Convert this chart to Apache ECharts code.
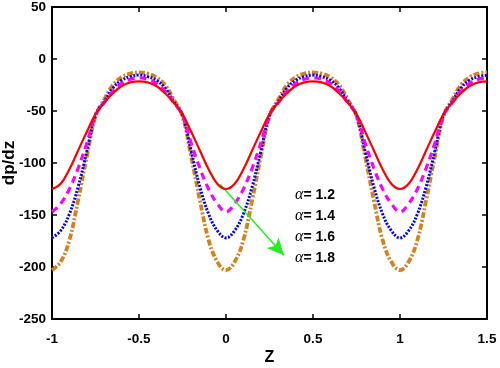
<!DOCTYPE html>
<html>
<head>
<meta charset="utf-8">
<script src="https://cdn.jsdelivr.net/npm/echarts@6/dist/echarts.min.js"></script>
<style>
html,body{margin:0;padding:0;background:#fff;}
#chart{width:500px;height:368px;}
</style>
</head>
<body>
<div id="chart"></div>
<script>
// Axial positions Z
var zValues = [
 -1,-0.95,-0.9,-0.85,-0.8,-0.75,-0.7,-0.65,-0.6,-0.55,-0.5,
 -0.45,-0.4,-0.35,-0.3,-0.25,-0.2,-0.15,-0.1,-0.05,0,
 0.05,0.1,0.15,0.2,0.25,0.3,0.35,0.4,0.45,0.5,
 0.55,0.6,0.65,0.7,0.75,0.8,0.85,0.9,0.95,1,
 1.05,1.1,1.15,1.2,1.25,1.3,1.35,1.4,1.45,1.5
];
// dp/dz for alpha = 1.2
var alpha12 = [
 -125,-120,-106,-88,-70,-53,-42,-33,-26,-22.5,-21.5,
 -22.5,-26,-33,-42,-53,-70,-88,-106,-120,-125,
 -120,-106,-88,-70,-53,-42,-33,-26,-22.5,-21.5,
 -22.5,-26,-33,-42,-53,-70,-88,-106,-120,-125,
 -120,-106,-88,-70,-53,-42,-33,-26,-22.5,-21.5
];
// dp/dz for alpha = 1.4
var alpha14 = [
 -147,-139,-125,-105,-81,-54,-42,-31,-23.5,-19.5,-18,
 -19.5,-23.5,-31,-42,-54,-81,-105,-125,-139,-147,
 -139,-125,-105,-81,-54,-42,-31,-23.5,-19.5,-18,
 -19.5,-23.5,-31,-42,-54,-81,-105,-125,-139,-147,
 -139,-125,-105,-81,-54,-42,-31,-23.5,-19.5,-18
];
// dp/dz for alpha = 1.6
var alpha16 = [
 -172,-165,-149,-123,-89,-54,-41,-28,-20.5,-17,-15.5,
 -17,-20.5,-28,-41,-54,-89,-123,-149,-165,-172,
 -165,-149,-123,-89,-54,-41,-28,-20.5,-17,-15.5,
 -17,-20.5,-28,-41,-54,-89,-123,-149,-165,-172,
 -165,-149,-123,-89,-54,-41,-28,-20.5,-17,-15.5
];
// dp/dz for alpha = 1.8
var alpha18 = [
 -203,-195,-174,-136,-94,-55,-39,-25,-17.5,-14,-13,
 -14,-17.5,-25,-39,-55,-94,-136,-174,-195,-203,
 -195,-174,-136,-94,-55,-39,-25,-17.5,-14,-13,
 -14,-17.5,-25,-39,-55,-94,-136,-174,-195,-203,
 -195,-174,-136,-94,-55,-39,-25,-17.5,-14,-13
];
var legendLabels = ['1.2','1.4','1.6','1.8'];
var arrowStart = [-0.034, -120.5];
var arrowEnd = [0.333, -188.8];

function pairs(ys){ return zValues.map(function(z,i){ return [z, ys[i]]; }); }

var FONT = '"Liberation Sans", Arial, sans-serif';
var chart = echarts.init(document.getElementById('chart'), null, {renderer:'canvas'});

var axisLineStyle = {show:true, onZero:false, lineStyle:{color:'#000', width:2}};
var tickStyle = {show:true, inside:true, length:5, lineStyle:{color:'#000', width:1.5}};

var option = {
  animation:false,
  backgroundColor:'#fff',
  grid:{left:52, right:13, top:7, bottom:49, containLabel:false, outerBoundsMode:'none'},
  xAxis:[{
    type:'value', min:-1, max:1.5, interval:0.5, position:'bottom',
    axisLine:axisLineStyle, axisTick:tickStyle, splitLine:{show:false},
    axisLabel:{color:'#000', fontFamily:FONT, fontWeight:'bold', fontSize:13.5, margin:13},
    name:'Z', nameLocation:'middle', nameGap:31, nameMoveOverlap:false,
    nameTextStyle:{color:'#000', fontFamily:FONT, fontWeight:'bold', fontSize:16}
  },{
    type:'value', min:-1, max:1.5, interval:0.5, position:'top',
    axisLine:axisLineStyle, axisTick:tickStyle, splitLine:{show:false},
    axisLabel:{show:false}
  }],
  yAxis:[{
    type:'value', min:-250, max:50, interval:50, position:'left',
    axisLine:axisLineStyle, axisTick:tickStyle, splitLine:{show:false},
    axisLabel:{color:'#000', fontFamily:FONT, fontWeight:'bold', fontSize:13.5, margin:6},
    name:'dp/dz', nameLocation:'middle', nameGap:34, nameRotate:90, nameMoveOverlap:false,
    nameTextStyle:{color:'#000', fontFamily:FONT, fontWeight:'bold', fontSize:17}
  },{
    type:'value', min:-250, max:50, interval:50, position:'right',
    axisLine:axisLineStyle, axisTick:tickStyle, splitLine:{show:false},
    axisLabel:{show:false}
  }],
  series:[
    {
      name:'α=1.8', type:'line', xAxisIndex:0, yAxisIndex:0, data:pairs(alpha18),
      showSymbol:false, smooth:0.4, z:2,
      lineStyle:{color:'#d4821e', width:3.8, type:[6,2,2,2]}
    },
    {
      name:'α=1.6', type:'line', xAxisIndex:0, yAxisIndex:0, data:pairs(alpha16),
      showSymbol:false, smooth:0.4, z:3,
      lineStyle:{color:'#0000ff', width:3, type:[2,1.5]}
    },
    {
      name:'α=1.4', type:'line', xAxisIndex:0, yAxisIndex:0, data:pairs(alpha14),
      showSymbol:false, smooth:0.4, z:4,
      lineStyle:{color:'#ff00ff', width:3.2, type:[7,5]}
    },
    {
      name:'α=1.2', type:'line', xAxisIndex:0, yAxisIndex:0, data:pairs(alpha12),
      showSymbol:false, smooth:0.4, z:5,
      lineStyle:{color:'#ff0000', width:2.2},
      markLine:{
        silent:true, animation:false,
        symbol:['none','arrow'], symbolSize:[12,17],
        label:{show:false},
        lineStyle:{color:'#22ee22', width:1.5, type:'solid'},
        emphasis:{disabled:true},
        data:[[{coord:arrowStart},{coord:arrowEnd}]]
      }
    }
  ],
  graphic: legendLabels.map(function(lbl,i){
    return {
      type:'text', left:295, top:187 + i*21,
      style:{
        text:'{a|α}{b|= ' + lbl + '}',
        rich:{
          a:{fontFamily:'"Liberation Serif", serif', fontStyle:'italic', fontSize:16, fill:'#000'},
          b:{fontFamily:FONT, fontWeight:'bold', fontSize:14, fill:'#000'}
        }
      }
    };
  })
};
chart.setOption(option);
</script>
</body>
</html>
